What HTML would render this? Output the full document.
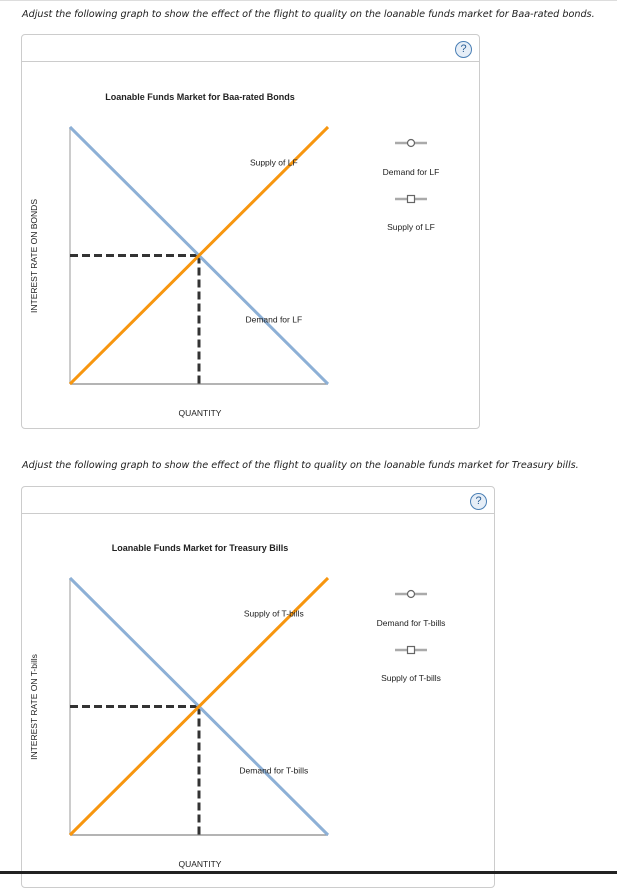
<!DOCTYPE html>
<html><head><meta charset="utf-8"><style>
body{margin:0;width:617px;height:874px;overflow:hidden;background:#fff;font-family:"Liberation Sans",sans-serif;position:relative}
.q{position:absolute;left:22px;font-family:"DejaVu Sans",sans-serif;font-style:italic;font-size:9.65px;color:#222;white-space:nowrap}
.box{position:absolute;border:1px solid #ccc;border-radius:4px;background:#fff}
.hdr{position:absolute;left:0;right:0;top:26px;border-top:1px solid #ccc}
.help{position:absolute;width:15px;height:15px;border:1.5px solid #4a7fb5;border-radius:50%;background:#e6eef7;color:#2a5d94;font-size:11px;text-align:center;line-height:15px}
svg{position:absolute;left:0;top:0}
</style></head><body>
<div style="position:absolute;left:0;right:0;top:0;border-top:1px solid #ddd"></div>
<div class="q" style="top:9px">Adjust the following graph to show the effect of the flight to quality on the loanable funds market for Baa-rated bonds.</div>
<div class="box" style="left:21px;top:34px;width:457px;height:393px"><div class="hdr"></div><div class="help" style="left:433px;top:6px">?</div></div>
<div class="q" style="top:460px">Adjust the following graph to show the effect of the flight to quality on the loanable funds market for Treasury bills.</div>
<div class="box" style="left:21px;top:486px;width:472px;height:400px"><div class="hdr"></div><div class="help" style="left:448px;top:6px">?</div></div>
<div style="position:absolute;left:0;right:0;top:871px;height:3px;background:#222"></div>
<svg id="s" width="617" height="874" xmlns="http://www.w3.org/2000/svg"></svg>
<script>
const titles=["Loanable Funds Market for Baa-rated Bonds","Loanable Funds Market for Treasury Bills"];
const yTitles=["INTEREST RATE ON BONDS","INTEREST RATE ON T-bills"];
const demandLabels=["Demand for LF","Demand for T-bills"];
const supplyLabels=["Supply of LF","Supply of T-bills"];
const demandQ=[0,10];const demandP=[10,0];
const supplyQ=[0,10];const supplyP=[0,10];
const eqQ=[5];const eqP=[5];
const offsets=[0,451];
const s=document.getElementById('s');
const NS='http://www.w3.org/2000/svg';
function mk(t,a){const e=document.createElementNS(NS,t);for(const k in a)e.setAttribute(k,a[k]);s.appendChild(e);return e;}
offsets.forEach((o,i)=>{
 const x=q=>70+q*25.8, y=p=>384+o-p*25.7;
 const t=mk('text',{x:200,y:100+o,'font-size':9,'font-weight':'bold','text-anchor':'middle',fill:'#222'});t.textContent=titles[i];
 
 
 const yt=mk('text',{x:0,y:0,'font-size':8.5,'text-anchor':'middle',fill:'#222',transform:`translate(37,${256+o}) rotate(-90)`});yt.textContent=yTitles[i];
 
 
 const ya=mk('line',{x1:70,y1:y(10),x2:70,y2:y(0),stroke:'#bbb','stroke-width':1.5});
 
 
 const xa=mk('line',{x1:70,y1:y(0),x2:x(10),y2:y(0),stroke:'#888','stroke-width':1.2});
 
 
 const xt=mk('text',{x:200,y:y(0)+32,'font-size':8.5,'text-anchor':'middle',fill:'#222'});xt.textContent='QUANTITY';
 
 
 const h=mk('line',{x1:70,y1:y(eqP[0]),x2:x(eqQ[0]),y2:y(eqP[0]),stroke:'#333','stroke-width':3,'stroke-dasharray':'8,4'});
 
 
 const v=mk('line',{x1:x(eqQ[0]),y1:y(eqP[0]),x2:x(eqQ[0]),y2:y(0),stroke:'#333','stroke-width':3,'stroke-dasharray':'8,4'});
 
 
 const d=mk('line',{x1:x(demandQ[0]),y1:y(demandP[0]),x2:x(demandQ[1]),y2:y(demandP[1]),stroke:'#8db0d6','stroke-width':3});
 
 
 const sp=mk('line',{x1:x(supplyQ[0]),y1:y(supplyP[0]),x2:x(supplyQ[1]),y2:y(supplyP[1]),stroke:'#f7960f','stroke-width':3});
 
 
 const sl=mk('text',{x:x(7.9),y:y(8.5),'font-size':8.5,'text-anchor':'middle',fill:'#222'});sl.textContent=supplyLabels[i];
 
 
 const dl=mk('text',{x:x(7.9),y:y(2.4),'font-size':8.5,'text-anchor':'middle',fill:'#222'});dl.textContent=demandLabels[i];
 
 
 const lx=411;
 const l1=mk('line',{x1:lx-16,y1:143+o,x2:lx+16,y2:143+o,stroke:'#aaa','stroke-width':2.5});
 
 
 const c=mk('circle',{cx:lx,cy:143+o,r:3.5,fill:'#fff',stroke:'#666','stroke-width':1.2});
 
 
 const lt1=mk('text',{x:lx,y:175+o,'font-size':8.5,'text-anchor':'middle',fill:'#222'});lt1.textContent=demandLabels[i];
 
 
 const l2=mk('line',{x1:lx-16,y1:199+o,x2:lx+16,y2:199+o,stroke:'#aaa','stroke-width':2.5});
 
 
 const r=mk('rect',{x:lx-3.5,y:195.5+o,width:7,height:7,fill:'#fff',stroke:'#666','stroke-width':1.2});
 
 
 const lt2=mk('text',{x:lx,y:230+o,'font-size':8.5,'text-anchor':'middle',fill:'#222'});lt2.textContent=supplyLabels[i];
 
 
});
</script>
</body></html>
